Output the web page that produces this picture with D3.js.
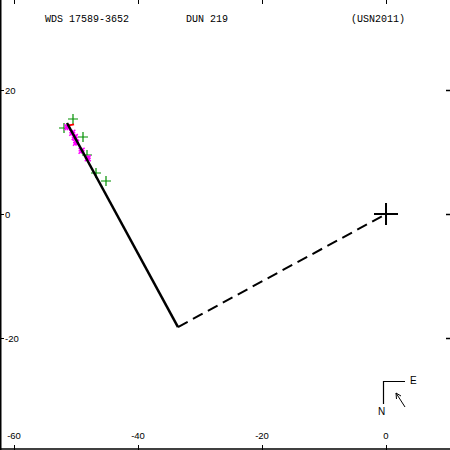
<!DOCTYPE html>
<html>
<head>
<meta charset="utf-8">
<script src="https://cdn.jsdelivr.net/npm/d3@7"></script>
<style>
  body { margin: 0; background: #fff; }
  svg { display: block; }
</style>
</head>
<body>
<div id="chart"></div>
<script>
// chart values
var xTicks = [-60, -40, -20, 0];
var yTicks = [20, 0, -20];
var titleParts = ["WDS 17589-3652", "DUN 219", "(USN2011)"];

// linear fit: solid part then dashed part to the primary
var fitSolid = [[-51.45, 14.68], [-33.55, -18.23]];
var fitDashed = [[-33.55, -18.23], [0, 0]];

// observations
var obsGreen = [[-50.5, 15.3], [-51.9, 13.9], [-48.9, 12.4], [-48.2, 9.5], [-46.8, 6.6], [-45.2, 5.3]];
var obsMagenta = [[-51.4, 14.0], [-50.6, 13.1], [-50.2, 12.4], [-50.0, 11.5], [-49.1, 10.2], [-48.1, 9.0]];
var obsRed = [[-50.8, 14.3]];

var W = 450, H = 450;

const svg = d3.select("#chart")
  .append("svg")
  .attr("width", W)
  .attr("height", H);

const x = d3.scaleLinear().domain([-62.26, 10.32]).range([0, W]);
const y = d3.scaleLinear().domain([34.52, -38.06]).range([0, H]);

// frame: left and bottom lines
svg.append("line")
  .attr("x1", 0.5).attr("x2", 0.5).attr("y1", 0).attr("y2", H)
  .attr("stroke", "#000").attr("stroke-width", 2);
svg.append("line")
  .attr("x1", 0).attr("x2", W).attr("y1", H - 1).attr("y2", H - 1)
  .attr("stroke", "#000").attr("stroke-width", 1.5);

// x ticks top and bottom
svg.selectAll(".xtTop").data(xTicks).enter().append("line")
  .attr("x1", (d) => Math.round(x(d)) + 0.5).attr("x2", (d) => Math.round(x(d)) + 0.5)
  .attr("y1", 0).attr("y2", 4)
  .attr("stroke", "#000");
svg.selectAll(".xtBot").data(xTicks).enter().append("line")
  .attr("x1", (d) => Math.round(x(d)) + 0.5).attr("x2", (d) => Math.round(x(d)) + 0.5)
  .attr("y1", H - 5).attr("y2", H)
  .attr("stroke", "#000");
svg.selectAll(".xtLab").data(xTicks).enter().append("text")
  .attr("x", (d) => x(d))
  .attr("y", H - 11)
  .attr("text-anchor", "middle")
  .attr("font-family", "Liberation Sans, Arial, sans-serif")
  .attr("font-size", 9.5)
  .text((d) => d);

// y ticks left and right
svg.selectAll(".ytL").data(yTicks).enter().append("line")
  .attr("x1", 0).attr("x2", 4)
  .attr("y1", (d) => Math.round(y(d)) + 0.5).attr("y2", (d) => Math.round(y(d)) + 0.5)
  .attr("stroke", "#000");
svg.selectAll(".ytR").data(yTicks).enter().append("line")
  .attr("x1", W - 4).attr("x2", W)
  .attr("y1", (d) => Math.round(y(d)) + 0.5).attr("y2", (d) => Math.round(y(d)) + 0.5)
  .attr("stroke", "#000").attr("stroke-width", 1.5);
svg.selectAll(".ytLab").data(yTicks).enter().append("text")
  .attr("x", 5)
  .attr("y", (d) => y(d) + 3.5)
  .attr("font-family", "Liberation Sans, Arial, sans-serif")
  .attr("font-size", 9.5)
  .text((d) => d);

// title
var titleX = [45, 186, 351];
svg.selectAll(".title").data(titleParts).enter().append("text")
  .attr("x", (d, i) => titleX[i])
  .attr("y", 22)
  .attr("font-family", "Liberation Mono, monospace")
  .attr("font-size", 10)
  .text((d) => d);

const line = d3.line().x((d) => x(d[0])).y((d) => y(d[1]));

// observations (drawn beneath the fit line)
svg.selectAll(".obsG").data(obsGreen).enter().append("path")
  .attr("d", (d) => {
    var cx = Math.round(x(d[0])), cy = Math.round(y(d[1]));
    return "M" + (cx - 5) + "," + cy + "H" + (cx + 5) + "M" + cx + "," + (cy - 5) + "V" + (cy + 5);
  })
  .attr("stroke", "#009000").attr("stroke-width", 1.2).attr("fill", "none");

svg.selectAll(".obsM").data(obsMagenta).enter().append("path")
  .attr("d", (d) => {
    var cx = x(d[0]), cy = y(d[1]);
    var s = 3;
    return "M" + (cx - s) + "," + (cy - s) + "L" + (cx + s) + "," + (cy + s) +
      "M" + (cx - s) + "," + (cy + s) + "L" + (cx + s) + "," + (cy - s) +
      "M" + (cx - s) + "," + cy + "H" + (cx + s) +
      "M" + cx + "," + (cy - s) + "V" + (cy + s);
  })
  .attr("stroke", "#ff00ff").attr("stroke-width", 1.5).attr("fill", "none");

svg.selectAll(".obsR").data(obsRed).enter().append("line")
  .attr("x1", (d) => x(d[0]) - 2).attr("x2", (d) => x(d[0]) + 3)
  .attr("y1", (d) => y(d[1])).attr("y2", (d) => y(d[1]) - 1)
  .attr("stroke", "#ff0000").attr("stroke-width", 2);

// fit lines
svg.append("path").datum(fitSolid)
  .attr("d", line)
  .attr("stroke", "#000").attr("stroke-width", 2.5).attr("fill", "none");
svg.append("path").datum(fitDashed)
  .attr("d", line)
  .attr("stroke", "#000").attr("stroke-width", 2).attr("fill", "none")
  .attr("stroke-dasharray", "11,6");

// primary star
var px = x(0), py = y(0);
svg.append("path")
  .attr("d", "M" + (px - 12) + "," + py + "H" + (px + 12) + "M" + px + "," + (py - 11) + "V" + (py + 11))
  .attr("stroke", "#000").attr("stroke-width", 2).attr("fill", "none");

// orientation marker
var g = svg.append("g");
g.append("path")
  .attr("d", "M405,381.5H383.5V404")
  .attr("stroke", "#000").attr("stroke-width", 1.2).attr("fill", "none");
g.append("text").attr("x", 410).attr("y", 384)
  .attr("font-family", "Liberation Sans, Arial, sans-serif").attr("font-size", 10).text("E");
g.append("text").attr("x", 378).attr("y", 415)
  .attr("font-family", "Liberation Sans, Arial, sans-serif").attr("font-size", 10).text("N");
g.append("path")
  .attr("d", "M405,407L396,393M396,393L396.5,399M396,393L401,396")
  .attr("stroke", "#000").attr("stroke-width", 1).attr("fill", "none");
</script>
</body>
</html>
